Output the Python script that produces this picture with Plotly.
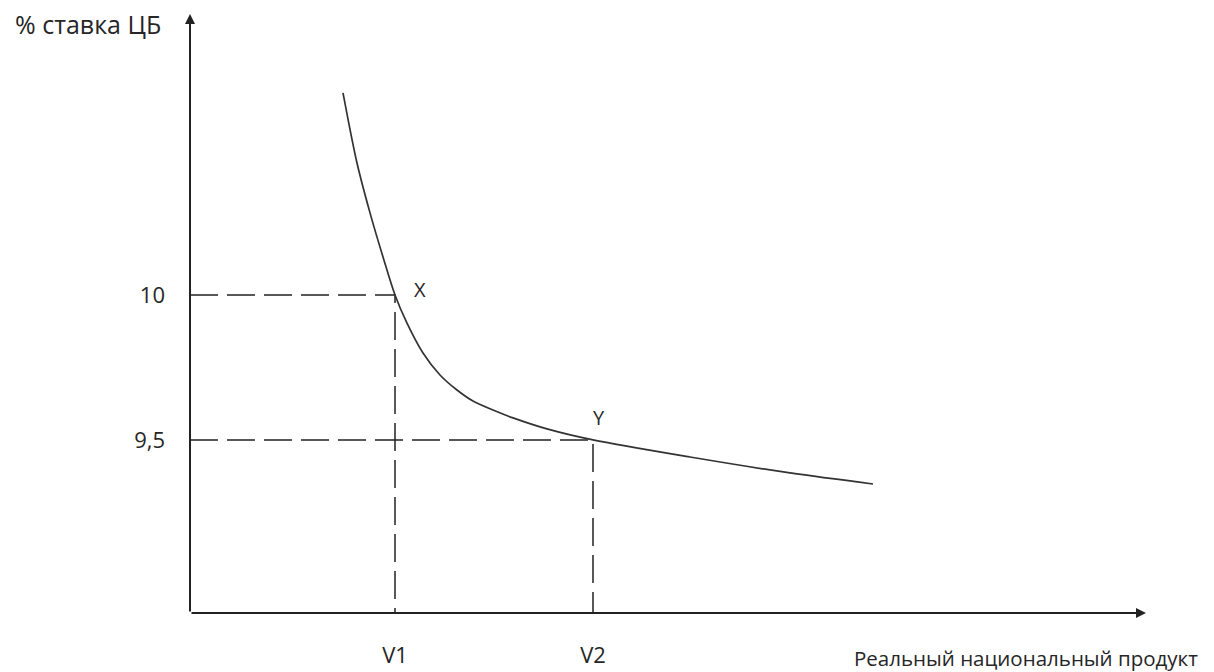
import plotly.graph_objects as go

# ---- data ----
curve_x = [1.53, 1.67, 1.80, 1.93, 2.05, 2.17, 2.33, 2.50, 2.67, 2.83, 3.03, 3.23, 3.57, 4.03, 5.00, 6.00, 6.83]
curve_y = [10.697, 10.455, 10.283, 10.131, 10.0, 9.903, 9.800, 9.724, 9.672, 9.634, 9.603, 9.576, 9.538, 9.5, 9.441, 9.386, 9.348]

point_names = ["X", "Y"]
point_x = [2.05, 4.03]          # V1, V2
point_y = [10.0, 9.5]

x_tick_labels = ["V1", "V2"]
y_tick_vals = [9.5, 10.0]
y_tick_labels = ["9,5", "10"]

x_title = "Реальный национальный продукт"
y_title = "% ставка ЦБ"

x_min, x_max = 0.0, 9.56
y_min, y_max = 8.903, 10.969

FONT = "Open Sans, Noto Sans, sans-serif"
INK = "#222222"
TXT = "#262626"
FS = 22

# the page body adds an 8px offset; size the figure to fit the window
OFF = 8
W, H = 1214 - OFF, 672 - OFF
L, T = 190 - OFF, 14 - OFF
R = W - (1146 - OFF)
B = H - (613 - OFF)
PW, PH = W - L - R, H - T - B

def px_to_paper(px, py):
    # page pixel -> paper coordinates
    return (px - OFF - L) / PW, (H - (py - OFF) - B) / PH

fig = go.Figure()

# dashed guide lines
for px, py in zip(point_x, point_y):
    fig.add_trace(go.Scatter(
        x=[x_min, px, px], y=[py, py, y_min],
        mode="lines", line=dict(color=INK, width=1.5, dash="28px,9px"),
        hoverinfo="skip", showlegend=False))

# curve
fig.add_trace(go.Scatter(
    x=curve_x, y=curve_y, mode="lines",
    line=dict(color="#333333", width=1.7, shape="spline", smoothing=0.9),
    showlegend=False, hoverinfo="skip"))

# point labels
label_shift = [(25, 5), (6, 22)]
for name, px, py, (dx, dy) in zip(point_names, point_x, point_y, label_shift):
    fig.add_annotation(x=px, y=py, xref="x", yref="y", text=name, showarrow=False,
                       xshift=dx, yshift=dy,
                       font=dict(family=FONT, size=FS - 2, color=TXT))

# axes drawn as arrows
fig.add_annotation(x=x_max, y=y_min, ax=x_min, ay=y_min, xref="x", yref="y",
                   axref="x", ayref="y", showarrow=True, arrowhead=2, arrowsize=1,
                   arrowwidth=2, arrowcolor=INK, text="")
fig.add_annotation(x=x_min, y=y_max, ax=x_min, ay=y_min, xref="x", yref="y",
                   axref="x", ayref="y", showarrow=True, arrowhead=2, arrowsize=1,
                   arrowwidth=2, arrowcolor=INK, text="")

# axis titles
tx, ty = px_to_paper(88, 24)
fig.add_annotation(x=tx, y=ty, xref="paper", yref="paper", text=y_title,
                   xanchor="center", yanchor="middle",
                   showarrow=False, font=dict(family=FONT, size=25, color=TXT))
tx, ty = px_to_paper(1026, 658)
fig.add_annotation(x=tx, y=ty, xref="paper", yref="paper", text=x_title,
                   xanchor="center", yanchor="middle",
                   showarrow=False, font=dict(family=FONT, size=20.5, color=TXT))

fig.update_layout(
    width=W, height=H,
    margin=dict(l=L, r=R, t=T, b=B, pad=0, autoexpand=False),
    plot_bgcolor="white", paper_bgcolor="white",
    xaxis=dict(range=[x_min, x_max], showgrid=False, zeroline=False, showline=False,
               automargin=False,
               tickvals=point_x, ticktext=x_tick_labels, ticks="",
               ticklabelstandoff=27,
               tickfont=dict(family=FONT, size=FS, color=TXT)),
    yaxis=dict(range=[y_min, y_max], showgrid=False, zeroline=False, showline=False,
               automargin=False,
               tickvals=y_tick_vals, ticktext=y_tick_labels, ticks="",
               ticklabelstandoff=24,
               tickfont=dict(family=FONT, size=FS, color=TXT)),
)

fig.write_html("out.html")
